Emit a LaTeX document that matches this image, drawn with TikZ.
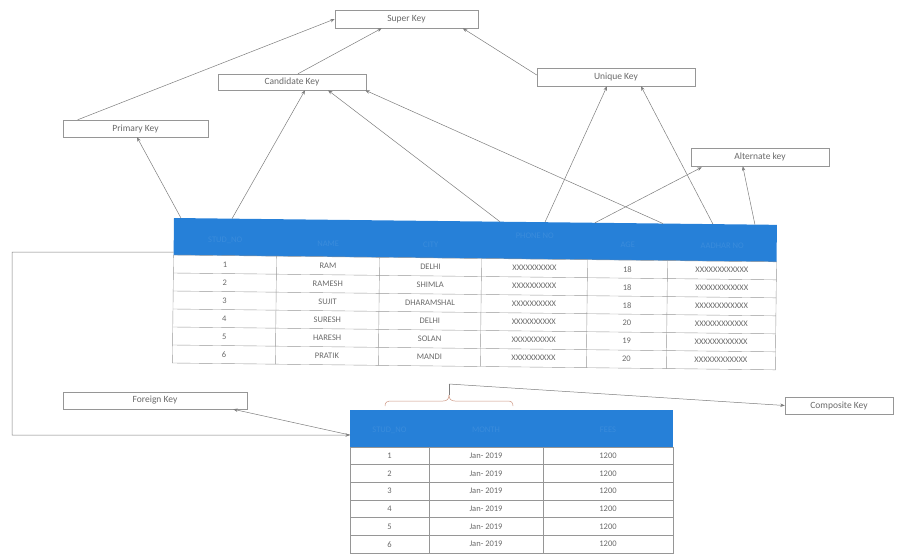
\documentclass[tikz,border=0pt]{standalone}
\usepackage{fontspec}
\setmainfont{Carlito}
\usetikzlibrary{arrows.meta,calc}
\definecolor{hdrblue}{RGB}{38,128,216}
\definecolor{hdrtext}{RGB}{58,140,220}
\definecolor{linegray}{RGB}{125,125,125}
\definecolor{boxgray}{RGB}{150,150,150}
\definecolor{txtgray}{RGB}{105,105,105}
\definecolor{bracecol}{RGB}{205,150,130}
\begin{document}
\begin{tikzpicture}[x=1pt,y=-1pt,
 keybox/.style={draw=boxgray, line width=0.5pt, fill=white, inner sep=0pt, text=txtgray, font=\fontsize{9.5}{10}\selectfont},
 conn/.style={draw=linegray, line width=0.5pt, -{Stealth[length=4.5pt,width=3.5pt]}},
 cellt/.style={text=txtgray, font=\fontsize{8.5}{9}\selectfont, inner sep=0pt},
 hcell/.style={text=hdrtext, font=\fontsize{8.5}{9}\selectfont, inner sep=0pt},
 gridline/.style={draw=boxgray, line width=0.4pt}]
\useasboundingbox (0,0) rectangle (904,558);

% ---------- main table ----------
\begin{scope}[rotate around={-0.65:(174,218)}]
  \fill[hdrblue] (174,218) rectangle (777,255);
  \draw[gridline] (174,255) rectangle (777,363);
  \foreach \y in {273,291,309,327,345} \draw[gridline] (174,\y) -- (777,\y);
  \foreach \x in {277,380,482,588,668} \draw[gridline] (\x,255) -- (\x,363);
  \node[hcell] (h1) at (225.5,240) {STUD\_NO};
  \node[hcell] (h2) at (328.5,242) {NAME};
  \node[hcell] (h3) at (431,242) {CITY};
  \node[hcell] (h4) at (535,232) {PHONE NO};
  \node[hcell] (h5) at (628,240) {AGE};
  \node[hcell] (h6) at (722.5,240) {AADHAR NO};
  \foreach \i/\n/\c/\a in {1/RAM/DELHI/18, 2/RAMESH/SHIMLA/18, 3/SUJIT/DHARAMSHAL/18, 4/SURESH/DELHI/20, 5/HARESH/SOLAN/19, 6/PRATIK/MANDI/20}{
    \pgfmathsetmacro{\yy}{255+18*\i-9}
    \node[cellt] (ra\i) at (225.5,\yy) {\i};
    \node[cellt] (rb\i) at (328.5,\yy) {\n};
    \node[cellt] (rc\i) at (431,\yy) {\c};
    \node[cellt] (rd\i) at (535,\yy) {XXXXXXXXXX};
    \node[cellt] (re\i) at (628,\yy) {\a};
    \node[cellt] (rf\i) at (722.5,\yy) {XXXXXXXXXXXX};
  }
  \coordinate (tpk) at (181,218);
  \coordinate (tck1) at (232,218);
  \coordinate (tck2) at (500,218);
  \coordinate (tck3) at (663,218);
  \coordinate (tuk1) at (545,218);
  \coordinate (tuk2) at (713,218);
  \coordinate (tak1) at (595,218);
  \coordinate (tak2) at (755,218);
  \coordinate (tleft) at (174,252);
\end{scope}

% ---------- second table ----------
\fill[hdrblue] (350,410) rectangle (673,447);
\draw[gridline] (350,447) rectangle (673,553);
\foreach \i in {1,...,5} \draw[gridline] (350,{447+17.67*\i}) -- (673,{447+17.67*\i});
\foreach \x in {429,543} \draw[gridline] (\x,447) -- (\x,553);
\node[hcell] (g1) at (389.5,430) {STUD\_NO};
\node[hcell] (g2) at (486,430) {MONTH};
\node[hcell] (g3) at (608,430) {FEES};
\foreach \i in {1,...,6}{
  \pgfmathsetmacro{\yy}{447+17.67*\i-8.8}
  \node[cellt] (sa\i) at (389.5,\yy) {\i};
  \node[cellt] (sb\i) at (486,\yy) {Jan- 2019};
  \node[cellt] (sc\i) at (608,\yy) {1200};
}
\coordinate (t2left) at (350,435);

% ---------- key boxes ----------
\node[keybox, minimum width=143pt, minimum height=18pt] (super) at (406.5,19) {Super Key};
\node[keybox, minimum width=148pt, minimum height=16pt] (ck) at (292,82) {Candidate Key};
\node[keybox, minimum width=145pt, minimum height=17pt] (pk) at (135.5,128.5) {Primary Key};
\node[keybox, minimum width=158pt, minimum height=18pt] (uk) at (616,77) {Unique Key};
\node[keybox, minimum width=138pt, minimum height=18pt] (ak) at (760,157) {Alternate key};
\node[keybox, minimum width=184pt, minimum height=17pt] (fk) at (155,400.5) {Foreign Key};
\node[keybox, minimum width=108pt, minimum height=17pt] (comp) at (839,405.5) {Composite Key};

% ---------- connectors ----------
\draw[conn] ($(pk.north west)+(15,0)$) -- (super.west);
\draw[conn] ($(ck.north)+(6,0)$) -- ($(super.south west)+(47,0)$);
\draw[conn] ($(uk.west)+(0,-2)$) -- ($(super.south west)+(128,0)$);

\draw[conn] (tpk) -- ($(pk.south)+(1.5,0)$);
\draw[conn] (tck1) -- ($(ck.south)+(13,0)$);
\draw[conn] (tck2) -- ($(ck.south)+(36,0)$);
\draw[conn] (tck3) -- ($(ck.south east)+(-1,0)$);
\draw[conn] (tuk1) -- ($(uk.south)+(-9,0)$);
\draw[conn] (tuk2) -- ($(uk.south)+(25,0)$);
\draw[conn] (tak1) -- ($(ak.south west)+(11,1)$);
\draw[conn] (tak2) -- ($(ak.south west)+(52,0)$);

\draw[conn] (tleft) -- (12,252) -- (12,435) -- (t2left);
\draw[conn] (t2left) -- ($(fk.south east)+(-14,0)$);

% ---------- composite brace ----------
\coordinate (bt) at (449,384);
\draw[bracecol, line width=0.5pt] (385,406) .. controls (385,402) and (387,401) .. (392,401) -- (443,401) .. controls (447,401) and (449,399) .. (449,395);
\draw[bracecol, line width=0.5pt] (449,395) .. controls (449,399) and (451,401) .. (455,401) -- (507,401) .. controls (511,401) and (513,402) .. (513,406);
\draw[linegray, line width=0.5pt] (449,395) -- (bt);
\draw[conn] (bt) -- (comp.west);
\end{tikzpicture}
\end{document}
